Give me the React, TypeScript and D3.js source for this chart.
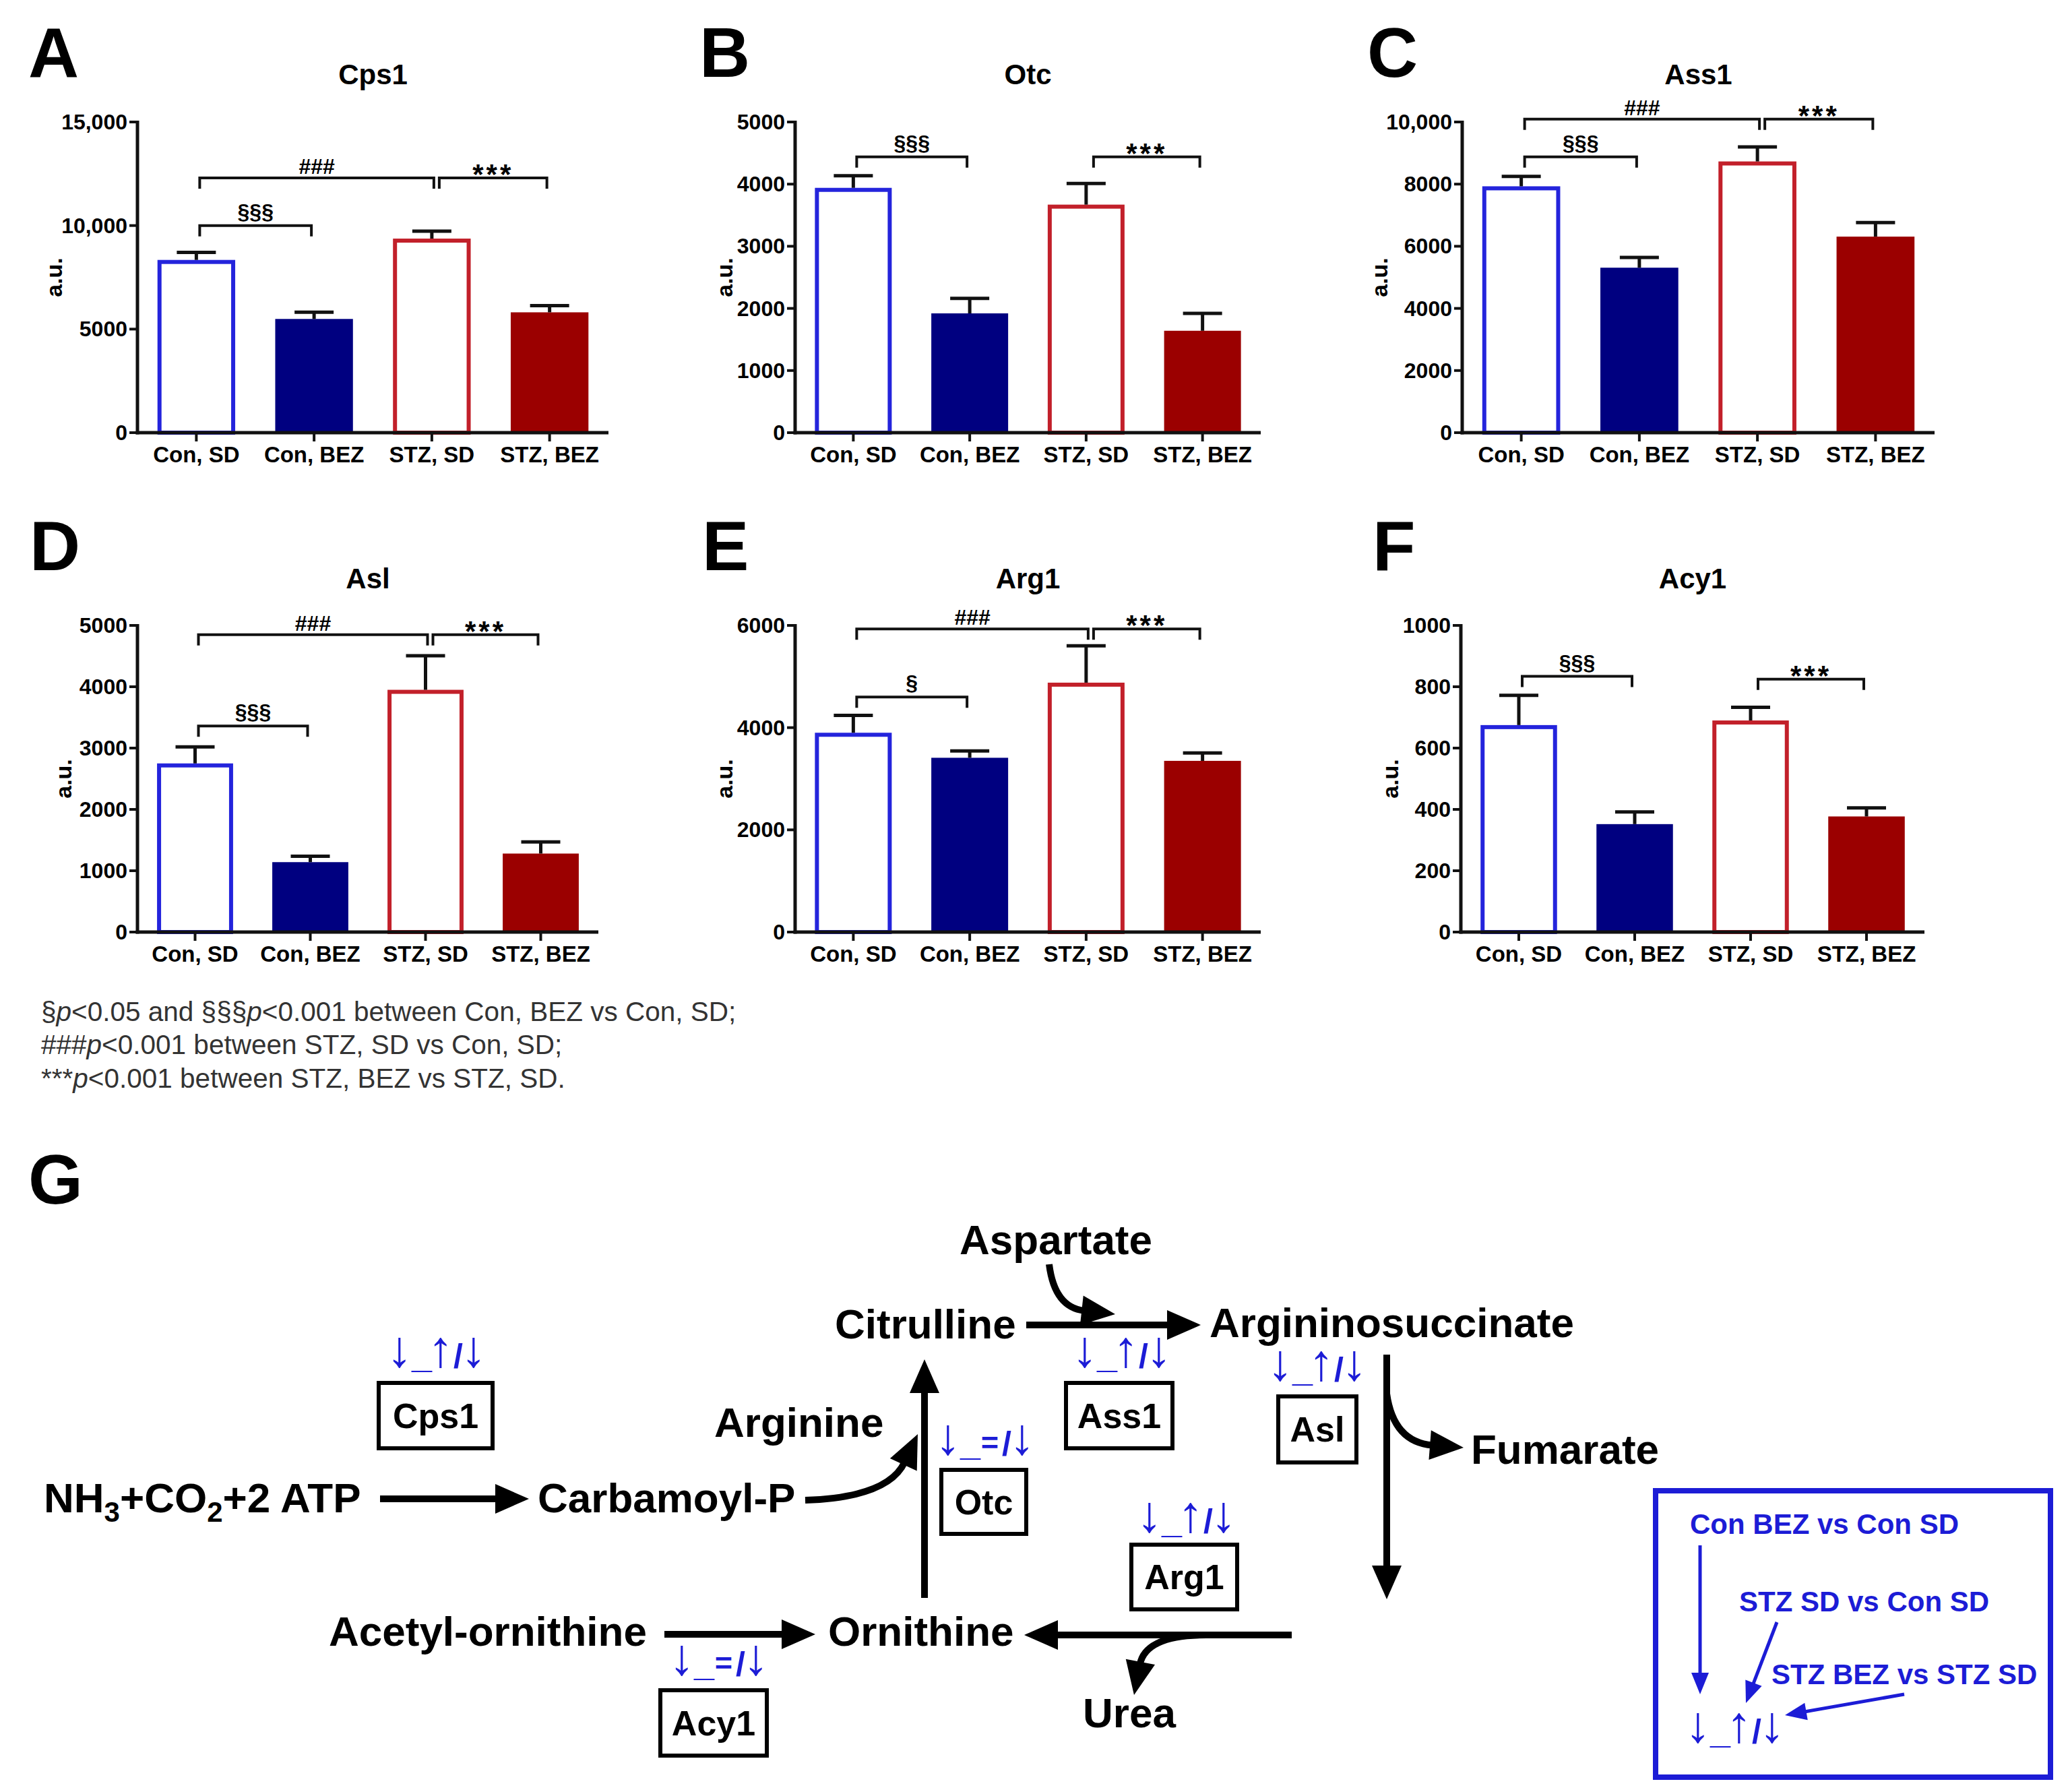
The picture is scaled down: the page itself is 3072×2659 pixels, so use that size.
import React from "react";
import * as d3 from "d3";

// ---------------- DATA ----------------
const categories = ["Con, SD", "Con, BEZ", "STZ, SD", "STZ, BEZ"];

const cps1Mean = [8340, 5490, 9370, 5810];
const cps1Sem = [360, 330, 360, 320];
const otcMean = [3940, 1920, 3670, 1640];
const otcSem = [195, 240, 340, 280];
const ass1Mean = [7930, 5310, 8730, 6310];
const ass1Sem = [320, 330, 470, 450];
const aslMean = [2750, 1140, 3950, 1280];
const aslSem = [270, 95, 555, 190];
const arg1Mean = [3900, 3410, 4880, 3350];
const arg1Sem = [340, 135, 720, 155];
const acy1Mean = [675, 352, 690, 377];
const acy1Sem = [97, 40, 43, 28];

const cps1Ticks = [0, 5000, 10000, 15000];
const cps1TickLabels = ["0", "5000", "10,000", "15,000"];
const otcTicks = [0, 1000, 2000, 3000, 4000, 5000];
const otcTickLabels = ["0", "1000", "2000", "3000", "4000", "5000"];
const ass1Ticks = [0, 2000, 4000, 6000, 8000, 10000];
const ass1TickLabels = ["0", "2000", "4000", "6000", "8000", "10,000"];
const aslTicks = [0, 1000, 2000, 3000, 4000, 5000];
const aslTickLabels = ["0", "1000", "2000", "3000", "4000", "5000"];
const arg1Ticks = [0, 2000, 4000, 6000];
const arg1TickLabels = ["0", "2000", "4000", "6000"];
const acy1Ticks = [0, 200, 400, 600, 800, 1000];
const acy1TickLabels = ["0", "200", "400", "600", "800", "1000"];

// brackets: [fromIndex, toIndex, level (a.u.), label]
const cps1Brackets = [[0, 1, 10000, "§§§"], [0, 2, 12300, "###"], [2, 3, 12300, "***"]];
const otcBrackets = [[0, 1, 4440, "§§§"], [2, 3, 4440, "***"]];
const ass1Brackets = [[0, 2, 10090, "###"], [2, 3, 10090, "***"], [0, 1, 8880, "§§§"]];
const aslBrackets = [[0, 2, 4850, "###"], [2, 3, 4850, "***"], [0, 1, 3360, "§§§"]];
const arg1Brackets = [[0, 2, 5930, "###"], [2, 3, 5930, "***"], [0, 1, 4600, "§"]];
const acy1Brackets = [[0, 1, 834, "§§§"], [2, 3, 825, "***"]];

// pathway annotation: change symbols per enzyme (Con BEZ vs Con SD _ STZ SD vs Con SD / STZ BEZ vs STZ SD)
const enzymes = ["Cps1", "Ass1", "Asl", "Otc", "Arg1", "Acy1"];
const enzymeChanges = [["↓", "↑", "↓"], ["↓", "↑", "↓"], ["↓", "↑", "↓"], ["↓", "=", "↓"], ["↓", "↑", "↓"], ["↓", "=", "↓"]];

const legendLines = ["Con BEZ vs Con SD", "STZ SD vs Con SD", "STZ BEZ vs STZ SD"];

// ---------------- STYLE / LAYOUT ----------------
const FONT = "'Liberation Sans', Arial, Helvetica, sans-serif";
const BLUE = "#1c1cd6";
const barFill = ["#ffffff", "#000080", "#ffffff", "#9b0000"];
const barStroke = ["#2424dc", "#000080", "#c2202a", "#9b0000"];
const outlined = [true, false, true, false];

const TOP = { yTop: 181, yBottom: 642, titleY: 125, letterY: 114 };
const BOT = { yTop: 928, yBottom: 1383, titleY: 873, letterY: 846 };

const panels = [
  { letter: "A", title: "Cps1", mean: cps1Mean, sem: cps1Sem, ticks: cps1Ticks, tickLabels: cps1TickLabels, brackets: cps1Brackets, x0: 204, x1: 903, letterX: 42, ylabX: 80, ...TOP },
  { letter: "B", title: "Otc", mean: otcMean, sem: otcSem, ticks: otcTicks, tickLabels: otcTickLabels, brackets: otcBrackets, x0: 1180, x1: 1871, letterX: 1038, ylabX: 1075, ...TOP },
  { letter: "C", title: "Ass1", mean: ass1Mean, sem: ass1Sem, ticks: ass1Ticks, tickLabels: ass1TickLabels, brackets: ass1Brackets, x0: 2170, x1: 2871, letterX: 2029, ylabX: 2047, ...TOP },
  { letter: "D", title: "Asl", mean: aslMean, sem: aslSem, ticks: aslTicks, tickLabels: aslTickLabels, brackets: aslBrackets, x0: 204, x1: 888, letterX: 44, ylabX: 94, ...BOT },
  { letter: "E", title: "Arg1", mean: arg1Mean, sem: arg1Sem, ticks: arg1Ticks, tickLabels: arg1TickLabels, brackets: arg1Brackets, x0: 1180, x1: 1871, letterX: 1042, ylabX: 1075, ...BOT },
  { letter: "F", title: "Acy1", mean: acy1Mean, sem: acy1Sem, ticks: acy1Ticks, tickLabels: acy1TickLabels, brackets: acy1Brackets, x0: 2168, x1: 2856, letterX: 2037, ylabX: 2063, ...BOT },
];

function BarPanel({ p }: { p: any }) {
  const x = d3.scaleBand().domain(categories).range([p.x0, p.x1]).paddingInner(0.34).paddingOuter(0.17);
  const yMax = p.ticks[p.ticks.length - 1];
  const y = d3.scaleLinear().domain([0, yMax]).range([p.yBottom, p.yTop]);
  const bw = x.bandwidth();
  const cx = (i: number) => (x(categories[i]) as number) + bw / 2;
  const sw = 6;
  const axisW = 5;
  return (
    <g fontFamily={FONT}>
      <text x={p.letterX} y={p.letterY} fontSize={104} fontWeight="bold">{p.letter}</text>
      <text x={(p.x0 + p.x1) / 2} y={p.titleY} fontSize={42} fontWeight="bold" textAnchor="middle">{p.title}</text>
      <text transform={`translate(${p.ylabX},${(p.yTop + p.yBottom) / 2}) rotate(-90)`} fontSize={34} fontWeight="bold" textAnchor="middle" dominantBaseline="central">a.u.</text>
      {/* bars */}
      {categories.map((c, i) => {
        const top = y(p.mean[i]);
        const left = x(c) as number;
        if (outlined[i]) {
          return (
            <rect key={c} x={left + sw / 2} y={top + sw / 2} width={bw - sw} height={p.yBottom - top - sw / 2}
              fill={barFill[i]} stroke={barStroke[i]} strokeWidth={sw} />
          );
        }
        return <rect key={c} x={left} y={top} width={bw} height={p.yBottom - top} fill={barFill[i]} />;
      })}
      {/* error bars */}
      {categories.map((c, i) => {
        const top = y(p.mean[i]);
        const et = y(p.mean[i] + p.sem[i]);
        const xc = cx(i);
        return (
          <g key={"e" + c} stroke="#111" strokeWidth={5}>
            <line x1={xc} x2={xc} y1={top} y2={et} />
            <line x1={xc - 29} x2={xc + 29} y1={et} y2={et} />
          </g>
        );
      })}
      {/* y axis */}
      <line x1={p.x0} x2={p.x0} y1={p.yTop - 2} y2={p.yBottom + axisW / 2} stroke="#111" strokeWidth={axisW} />
      {p.ticks.map((t: number, i: number) => (
        <g key={"t" + t}>
          <line x1={p.x0 - 12} x2={p.x0} y1={y(t)} y2={y(t)} stroke="#111" strokeWidth={4} />
          <text x={p.x0 - 15} y={y(t)} fontSize={32} fontWeight="bold" textAnchor="end" dominantBaseline="central">{p.tickLabels[i]}</text>
        </g>
      ))}
      {/* x axis */}
      <line x1={p.x0 - axisW / 2} x2={p.x1} y1={p.yBottom} y2={p.yBottom} stroke="#111" strokeWidth={axisW} />
      {categories.map((c, i) => (
        <g key={"x" + c}>
          <line x1={cx(i)} x2={cx(i)} y1={p.yBottom} y2={p.yBottom + 13} stroke="#111" strokeWidth={4} />
          <text x={cx(i)} y={p.yBottom + 44} fontSize={33} fontWeight="bold" textAnchor="middle">{c}</text>
        </g>
      ))}
      {/* significance brackets */}
      {p.brackets.map((b: any, k: number) => {
        const [from, to, lvl, label] = b;
        const by = y(lvl);
        const xa = cx(from) + (from === 2 ? 11 : 5);
        const xb = cx(to) + (to === 2 ? 3 : -4);
        const mid = (xa + xb) / 2;
        const isStar = label[0] === "*";
        const isHash = label[0] === "#";
        return (
          <g key={"b" + k}>
            <path d={`M${xa},${by + 16}V${by}H${xb}V${by + 16}`} fill="none" stroke="#111" strokeWidth={4} />
            <text x={mid} y={isStar ? by + 9 : isHash ? by - 6 : by - 10} fontSize={isStar ? 42 : 32}
              letterSpacing={isStar ? 4 : 0} fontWeight="bold" textAnchor="middle">{label}</text>
          </g>
        );
      })}
    </g>
  );
}

type Pt = [number, number];
function Arrow({ pts, color = "#000", width = 10, headLen = 50, headW = 22 }: { pts: Pt[]; color?: string; width?: number; headLen?: number; headW?: number }) {
  const end = pts[pts.length - 1];
  const prev = pts[pts.length - 2];
  const dx = end[0] - prev[0];
  const dy = end[1] - prev[1];
  const L = Math.hypot(dx, dy);
  const ux = dx / L, uy = dy / L;
  const bx = end[0] - ux * headLen, by = end[1] - uy * headLen;
  const nx = -uy, ny = ux;
  const path = d3.path();
  path.moveTo(pts[0][0], pts[0][1]);
  if (pts.length === 3) path.quadraticCurveTo(pts[1][0], pts[1][1], bx + ux * 4, by + uy * 4);
  else path.lineTo(bx + ux * 4, by + uy * 4);
  const head = `M${end[0]},${end[1]}L${bx + nx * headW},${by + ny * headW}L${bx - nx * headW},${by - ny * headW}Z`;
  return (
    <g>
      <path d={path.toString()} fill="none" stroke={color} strokeWidth={width} />
      <path d={head} fill={color} />
    </g>
  );
}

// change symbol label "↓_↑/↓" as one text, glyphs placed around center x, arrow baseline y
function ChangeLabel({ x, y, sym }: { x: number; y: number; sym: string[] }) {
  return (
    <text fill={BLUE} textAnchor="middle" fontFamily={FONT} fontSize={76}>
      <tspan x={x - 55} y={y}>{sym[0]}</tspan>
      <tspan x={x - 22} y={y + 1} fontSize={54} fontWeight="bold">_</tspan>
      {sym[1] === "="
        ? <tspan x={x + 7} y={y - 2} fontSize={45} fontWeight="bold">=</tspan>
        : <tspan x={x + 6} y={y}>{sym[1]}</tspan>}
      <tspan x={x + 32} y={y + 1} fontSize={50} fontWeight="bold">/</tspan>
      <tspan x={x + 55} y={y}>{sym[2]}</tspan>
    </text>
  );
}

// enzyme box layout: x, y, w, h, change-label arrow baseline, change-label center x
const enzymeBoxes = [
  [562, 2052, 169, 97, 2028, 648],
  [1582, 2052, 158, 97, 2028, 1665],
  [1897, 2072, 116, 98, 2048, 1955],
  [1397, 2181, 126, 95, 2158, 1462],
  [1679, 2292, 157, 96, 2273, 1761],
  [980, 2508, 158, 97, 2485, 1067],
];

function Pathway() {
  const big = { fontSize: 62, fontWeight: "bold" as const, fontFamily: FONT };
  return (
    <g fontFamily={FONT}>
      <text x={42} y={1786} fontSize={104} fontWeight="bold">G</text>
      <text x={1424} y={1861} {...big}>Aspartate</text>
      <text x={1239} y={1986} {...big}>Citrulline</text>
      <text x={1795} y={1984} {...big}>Argininosuccinate</text>
      <text x={1060} y={2132} {...big}>Arginine</text>
      <text x={65} y={2244} {...big}>
        NH<tspan dy={14} fontSize={42}>3</tspan><tspan dy={-14}>+CO</tspan><tspan dy={14} fontSize={42}>2</tspan><tspan dy={-14}>+2 ATP</tspan>
      </text>
      <text x={798} y={2244} {...big}>Carbamoyl-P</text>
      <text x={2183} y={2172} {...big}>Fumarate</text>
      <text x={488} y={2442} {...big}>Acetyl-ornithine</text>
      <text x={1229} y={2442} {...big}>Ornithine</text>
      <text x={1607} y={2563} {...big}>Urea</text>

      {enzymes.map((e, i) => {
        const [bx, by, bw, bh, sy, sx] = enzymeBoxes[i];
        return (
          <g key={e}>
            <rect x={bx} y={by} width={bw} height={bh} fill="none" stroke="#000" strokeWidth={6} />
            <text x={bx + bw / 2} y={by + bh / 2 + 18} fontSize={52} fontWeight="bold" textAnchor="middle">{e}</text>
            <ChangeLabel x={sx} y={sy} sym={enzymeChanges[i]} />
          </g>
        );
      })}

      <Arrow pts={[[564, 2224], [785, 2224]]} />
      <Arrow pts={[[1195, 2226], [1318, 2222], [1362, 2128]]} />
      <Arrow pts={[[1372, 2371], [1372, 2017]]} />
      <Arrow pts={[[1523, 1966], [1782, 1966]]} />
      <Arrow pts={[[1557, 1876], [1565, 1940], [1655, 1950]]} />
      <Arrow pts={[[2058, 2010], [2058, 2373]]} />
      <Arrow pts={[[2058, 2068], [2068, 2140], [2172, 2148]]} />
      <Arrow pts={[[1917, 2426], [1520, 2426]]} />
      <Arrow pts={[[1790, 2426], [1700, 2426], [1683, 2515]]} />
      <Arrow pts={[[986, 2425], [1210, 2425]]} />

      {/* legend */}
      <rect x={2457} y={2212} width={586} height={425} fill="none" stroke={BLUE} strokeWidth={8} />
      <text x={2508} y={2276} fontSize={42} fontWeight="bold" fill={BLUE}>{legendLines[0]}</text>
      <text x={2581} y={2391} fontSize={42} fontWeight="bold" fill={BLUE}>{legendLines[1]}</text>
      <text x={2629} y={2499} fontSize={42} fontWeight="bold" fill={BLUE}>{legendLines[2]}</text>
      <ChangeLabel x={2575} y={2585} sym={enzymeChanges[0]} />
      <Arrow pts={[[2523, 2293], [2523, 2514]]} color={BLUE} width={5} headLen={32} headW={13} />
      <Arrow pts={[[2637, 2407], [2591, 2527]]} color={BLUE} width={5} headLen={32} headW={13} />
      <Arrow pts={[[2826, 2514], [2649, 2545]]} color={BLUE} width={5} headLen={32} headW={13} />
    </g>
  );
}

function Footnote() {
  const it = { fontStyle: "italic" as const };
  return (
    <g fontFamily={FONT} fontSize={40.5} fill="#333">
      <text x={61} y={1515}>§<tspan {...it}>p</tspan>&lt;0.05 and §§§<tspan {...it}>p</tspan>&lt;0.001 between Con, BEZ vs Con, SD;</text>
      <text x={61} y={1564}>###<tspan {...it}>p</tspan>&lt;0.001 between STZ, SD vs Con, SD;</text>
      <text x={61} y={1614}>***<tspan {...it}>p</tspan>&lt;0.001 between STZ, BEZ vs STZ, SD.</text>
    </g>
  );
}

export default function App() {
  return (
    <svg width={3072} height={2659} viewBox="0 0 3072 2659" style={{ position: "absolute", left: 0, top: 0, background: "#fff" }}>
      <rect width={3072} height={2659} fill="#fff" />
      {panels.map((p) => <BarPanel key={p.letter} p={p} />)}
      <Footnote />
      <Pathway />
    </svg>
  );
}
